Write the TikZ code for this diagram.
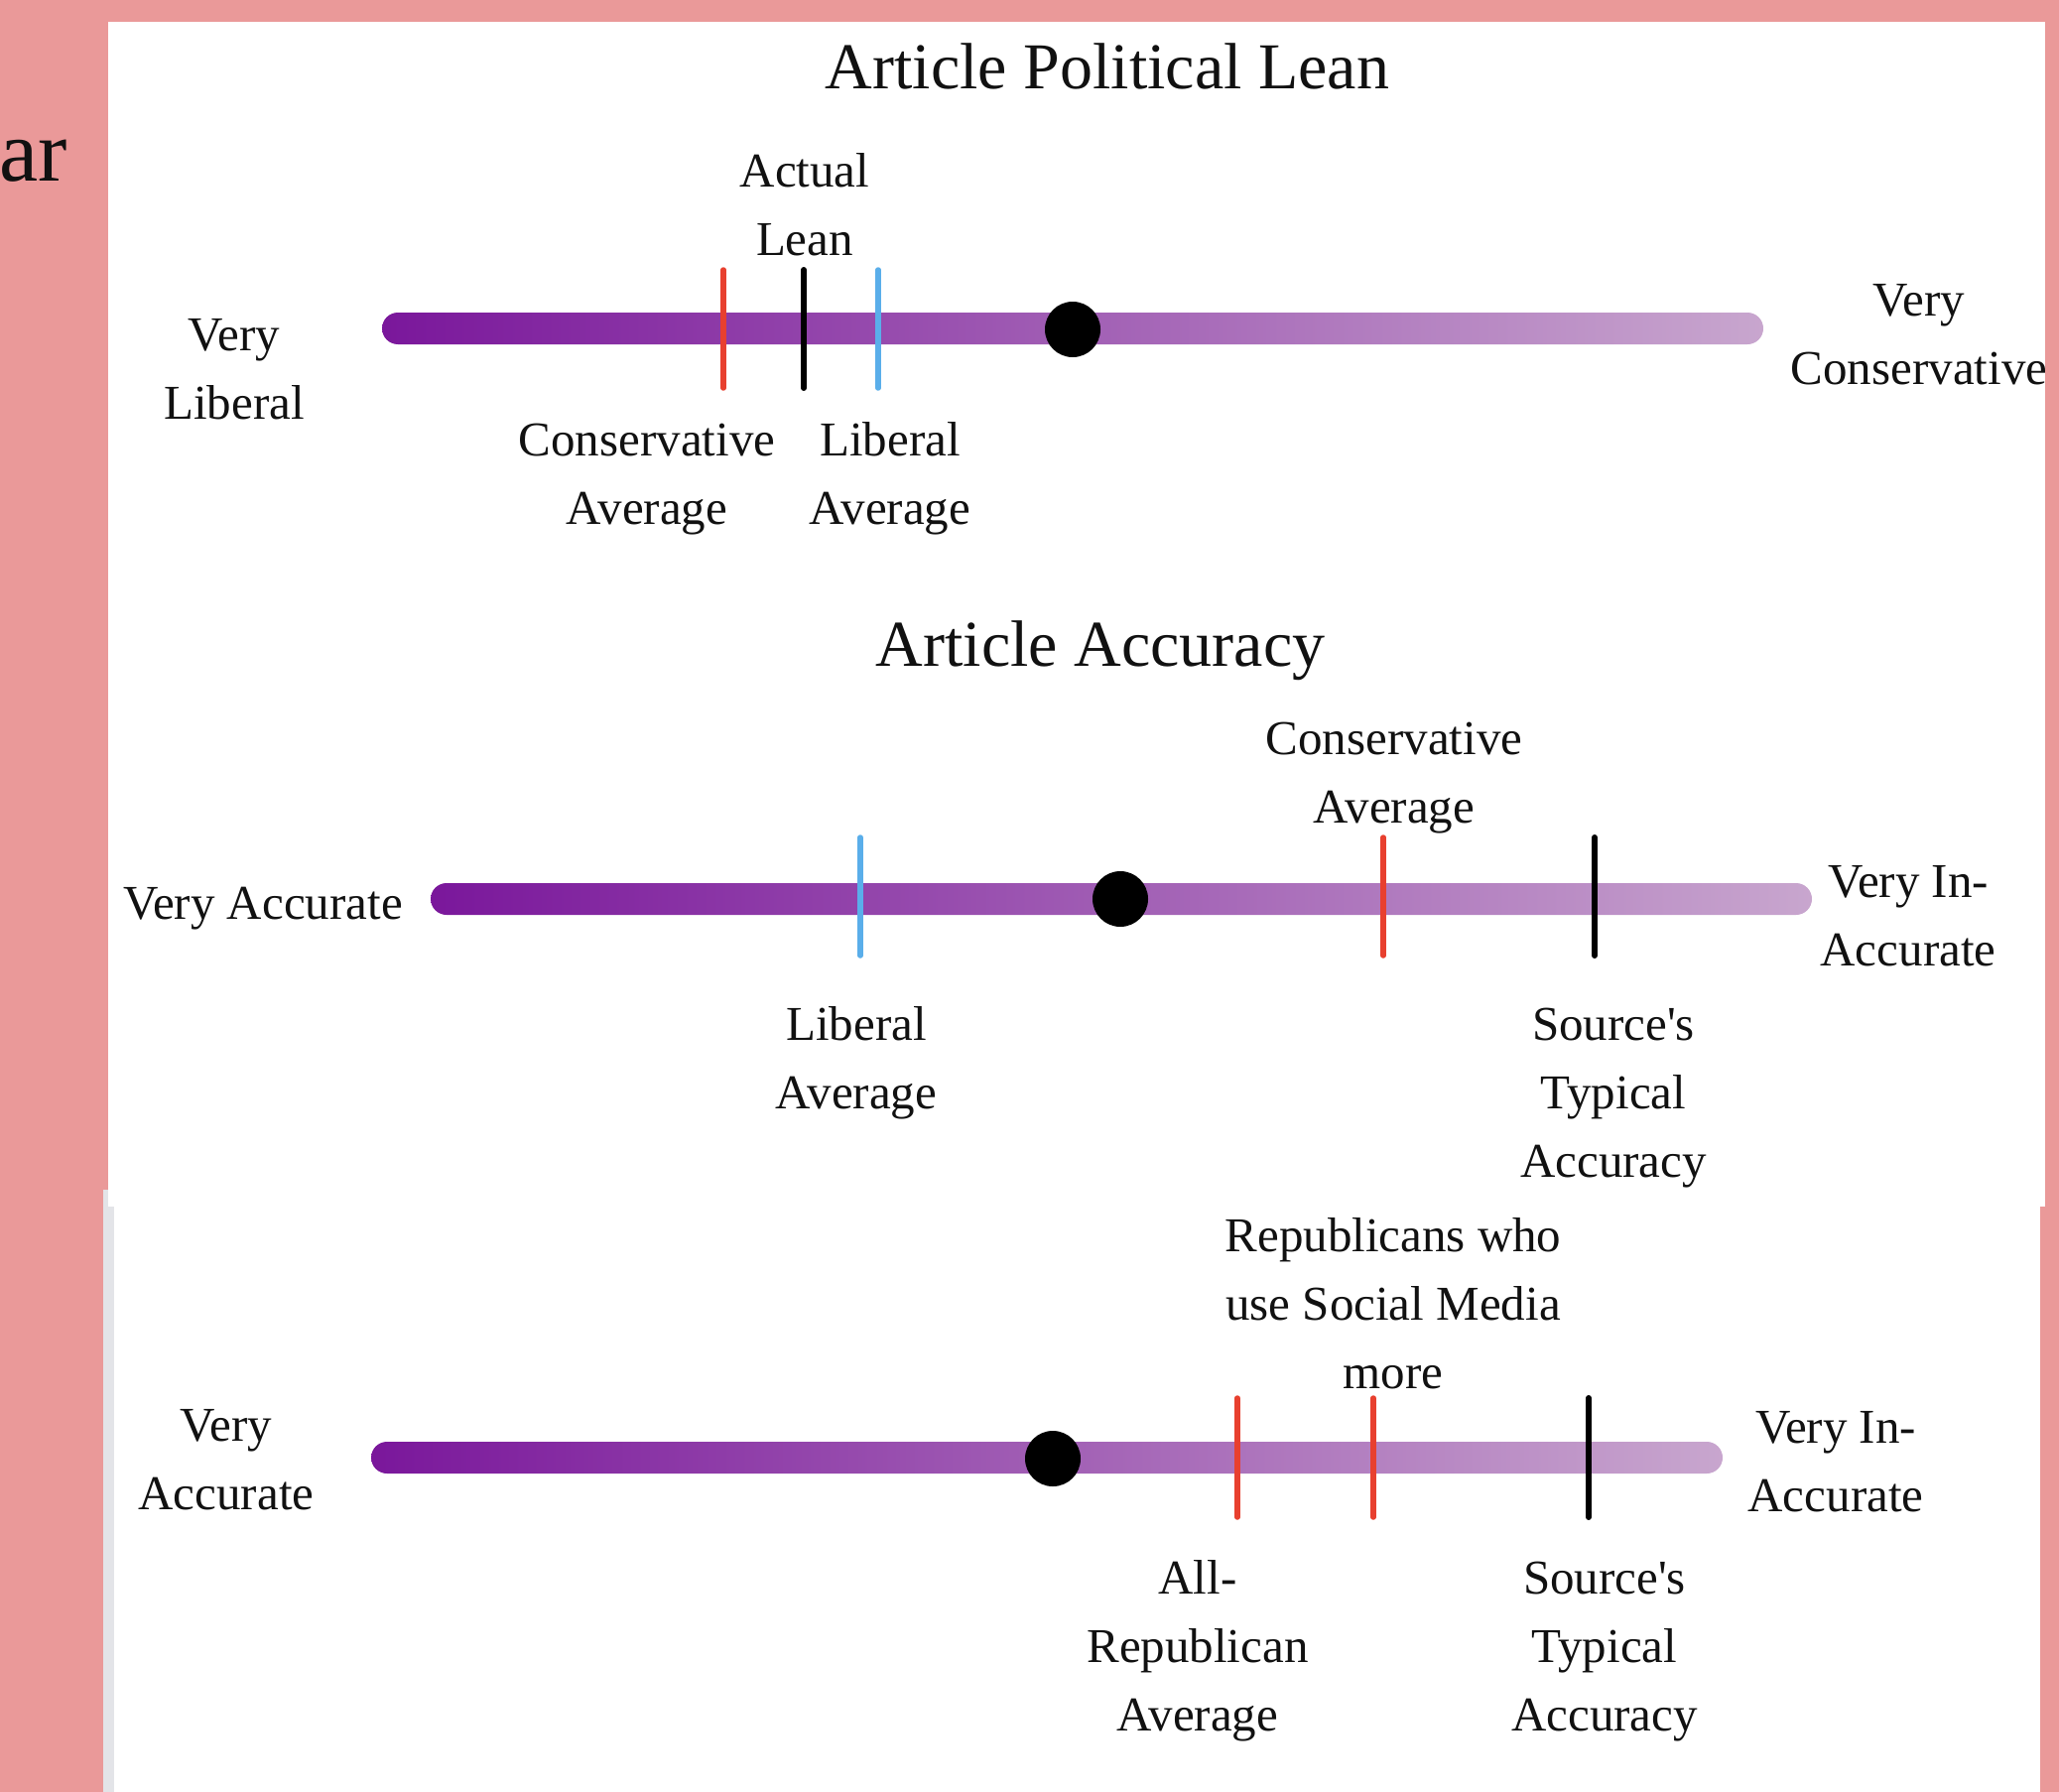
\documentclass[tikz,border=0pt]{standalone}
\usepackage{fontspec}
\setmainfont{Liberation Serif}
\definecolor{pinkbg}{HTML}{EA9999}
\definecolor{stripgrey}{HTML}{E3E4E8}
\definecolor{purpA}{HTML}{7A179B}
\definecolor{purpB}{HTML}{C8A6CE}
\definecolor{mred}{HTML}{E8402F}
\definecolor{mblue}{HTML}{5AAEEA}
\definecolor{txt}{HTML}{111111}
\tikzset{
  lbl/.style={anchor=base, align=center, inner sep=0pt, text=txt,
    font=\fontsize{49}{69}\selectfont},
  ttl/.style={anchor=base, inner sep=0pt, text=txt,
    font=\fontsize{66}{80}\selectfont},
  barshape/.style={draw=none, rounded corners=16pt, minimum height=32pt,
    inner sep=0pt, left color=purpA, right color=purpB},
  dotshape/.style={circle, fill=black, minimum size=56pt, inner sep=0pt},
  redmark/.style={draw=mred, line width=5.5pt, line cap=round},
  bluemark/.style={draw=mblue, line width=5.5pt, line cap=round},
  blackmark/.style={draw=black, line width=6pt, line cap=round}
}
\begin{document}
\begin{tikzpicture}[x=1pt,y=-1pt]
\useasboundingbox (0,0) rectangle (2075,1806);
\fill[pinkbg] (0,0) rectangle (2075,1806);
\fill[stripgrey] (104,1199) rectangle (115,1806);
\fill[white] (109,22) rectangle (2061,1216);
\fill[white] (115,1216) rectangle (2056,1806);

\node[anchor=base east, inner sep=0pt, text=txt, font=\fontsize{88}{100}\selectfont] (ar) at (68,183) {ar};

% ---------- Panel 1 ----------
\node[ttl] (t1) at (1116,90) {Article Political Lean};
\node[barshape, minimum width=1392pt] (bar1) at (1081,331) {};
\draw[redmark] (729,272) -- (729,391);
\draw[blackmark] (810,272) -- (810,391);
\draw[bluemark] (885,272) -- (885,391);
\node[dotshape] (dot1) at (1081,332) {};
\node[lbl] (vl) at (236,422) {Very\\Liberal};
\node[lbl] (vc) at (1934,387) {Very\\Conservative};
\node[lbl] (al) at (811,258) {Actual\\Lean};
\node[lbl] (ca1) at (652,528) {Conservative\\Average};
\node[lbl] (la1) at (897,528) {Liberal\\Average};

% ---------- Panel 2 ----------
\node[ttl] (t2) at (1109,671) {Article Accuracy};
\node[barshape, minimum width=1392pt] (bar2) at (1130,906) {};
\draw[bluemark] (867,844) -- (867,963);
\draw[redmark] (1394,844) -- (1394,963);
\draw[blackmark] (1607,844) -- (1607,963);
\node[dotshape] (dot2) at (1129,906) {};
\node[lbl] (va2) at (265,926) {Very Accurate};
\node[lbl] (vi2) at (1923,973) {Very In-\\Accurate};
\node[lbl] (ca2) at (1405,829) {Conservative\\Average};
\node[lbl] (la2) at (863,1117) {Liberal\\Average};
\node[lbl] (st2) at (1626,1186) {Source\textquotesingle s\\Typical\\Accuracy};

% ---------- Panel 3 ----------
\node[barshape, minimum width=1362pt] (bar3) at (1055,1469) {};
\draw[redmark] (1247,1409) -- (1247,1529);
\draw[redmark] (1384,1409) -- (1384,1529);
\draw[blackmark] (1601,1409) -- (1601,1529);
\node[dotshape] (dot3) at (1061,1470) {};
\node[lbl] (va3) at (228,1521) {Very\\Accurate};
\node[lbl] (vi3) at (1850,1523) {Very In-\\Accurate};
\node[lbl] (rs3) at (1404,1399) {Republicans who\\use Social Media\\more};
\node[lbl] (ar3) at (1207,1744) {All-\\Republican\\Average};
\node[lbl] (st3) at (1617,1744) {Source\textquotesingle s\\Typical\\Accuracy};

% right pink edge over clipped text
\fill[pinkbg] (2061,0) rectangle (2075,1216);
\fill[pinkbg] (2056,1216) rectangle (2075,1806);
\end{tikzpicture}
\end{document}
